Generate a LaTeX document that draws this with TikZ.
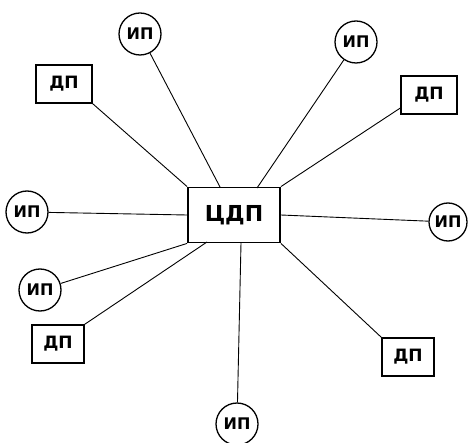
\documentclass[tikz,border=0pt]{standalone}
\usepackage{fontspec}
\setmainfont{DejaVu Sans}
\begin{document}
\begin{tikzpicture}[x=1pt,y=-1pt,
  hub/.style={draw, line width=1.8pt, minimum width=92pt, minimum height=55pt,
    inner sep=0pt, font=\fontsize{22}{24}\selectfont\bfseries},
  dp/.style={draw, line width=1.3pt, minimum width=56pt, minimum height=38pt,
    inner sep=0pt, font=\fontsize{17}{19}\selectfont\bfseries},
  ip/.style={draw, circle, line width=1.3pt, minimum size=42pt, inner sep=0pt,
    font=\fontsize{16}{18}\selectfont\bfseries},
  link/.style={line width=0.9pt}]
\useasboundingbox (0,0) rectangle (470,443);

% central node
\node[hub] (c) at (234,215) {ЦДП};

% peripheral nodes
\node[ip] (ip1) at (140,34) {ИП};
\node[ip] (ip2) at (356,42) {ИП};
\node[ip] (ip3) at (27,212) {ИП};
\node[ip] (ip4) at (40,290) {ИП};
\node[ip, minimum size=38pt] (ip5) at (448,222) {ИП};
\node[ip] (ip6) at (237,424) {ИП};

\node[dp] (dp1) at (64,84) {ДП};
\node[dp] (dp2) at (429,95) {ДП};
\node[dp, minimum width=52pt] (dp3) at (58,344) {ДП};
\node[dp, minimum width=52pt] (dp4) at (408,357) {ДП};

% attachment points on the hub
\coordinate (t1) at (220,187);
\coordinate (t2) at (257,188);
\coordinate (b1) at (207,242);
\coordinate (b2) at (241,243);

% connectors
\draw[link] (ip1) -- (t1);
\draw[link] (dp1.south east) -- (c.north west);
\draw[link] (ip2) -- (t2);
\draw[link] (dp2.west |- 0,108) -- (c.north east);
\draw[link] (ip3) -- (c.west);
\draw[link] (ip5) -- (c.east);
\draw[link] (ip4) -- (c.south west);
\draw[link] (dp3.north east) -- (b1);
\draw[link] (c.south east) -- (dp4.north west);
\draw[link] (b2) -- (ip6);
\end{tikzpicture}
\end{document}
